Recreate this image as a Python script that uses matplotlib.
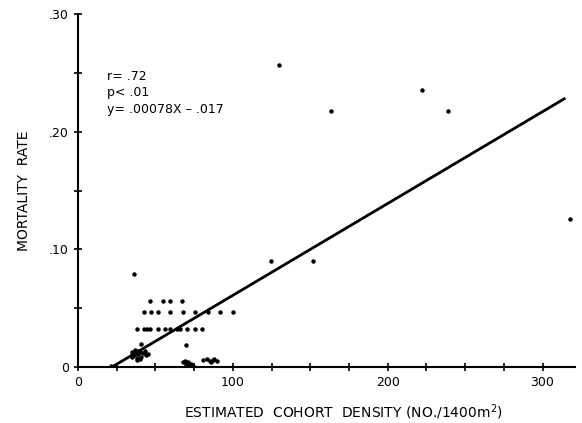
import matplotlib.pyplot as plt
import numpy as np

# scattered points
density = [36, 46.8, 54.7, 59.4, 67.0,
           42.7, 47.4, 51.7, 59.3, 67.5, 75.6, 83.8, 92.0, 100.2,
           38.4, 42.5, 44.6, 46.8, 51.7, 56.0, 59.7, 63.8, 65.7, 70.5, 75.6, 80.4,
           41, 69.8,
           35, 36, 37, 38, 39, 40, 41, 42, 43, 44, 45, 37, 38, 35, 40, 36, 39,
           68, 69, 70, 71, 72, 73, 74, 70,
           81, 83, 85, 87, 88, 90, 86,
           21.5,
           124.8, 129.5, 151.7, 163.4, 222, 239, 318]
mortality = [0.079, 0.056, 0.056, 0.056, 0.056,
             0.0466, 0.0466, 0.0466, 0.0466, 0.0466, 0.0466, 0.0466, 0.0466, 0.0466,
             0.0324, 0.0324, 0.0324, 0.0324, 0.0324, 0.0324, 0.0324, 0.0324, 0.0324, 0.0324, 0.0324, 0.0324,
             0.020, 0.0185,
             0.013, 0.010, 0.012, 0.008, 0.011, 0.013, 0.009, 0.012, 0.014, 0.010, 0.011, 0.015, 0.006, 0.009, 0.007, 0.012, 0.014,
             0.004, 0.005, 0.003, 0.004, 0.002, 0.003, 0.001, 0.001,
             0.006, 0.007, 0.005, 0.006, 0.007, 0.005, 0.004,
             0.001,
             0.0898, 0.257, 0.0904, 0.218, 0.235, 0.218, 0.126]

# regression y = .00078x - .017
slope = 0.00078
intercept = -0.017
fit_x = np.array([21.8, 314])
fit_y = slope * fit_x + intercept

fig = plt.figure(figsize=(5.82, 4.23), dpi=100)
ax = fig.add_axes([0.134, 0.132, 0.854, 0.835])

ax.plot(density, mortality, 'o', color='black', markersize=2.2)
ax.plot(fit_x, fit_y, color='black', linewidth=2)

ax.set_xlim(0, 321)
ax.set_ylim(0, 0.30)
ax.spines['top'].set_visible(False)
ax.spines['right'].set_visible(False)
ax.spines['left'].set_linewidth(1.5)
ax.spines['bottom'].set_linewidth(1.5)

ax.set_xticks([0, 100, 200, 300])
ax.set_xticklabels(['0', '100', '200', '300'])
ax.set_xticks(np.arange(0, 321, 25), minor=True)
ax.set_yticks([0, 0.10, 0.20, 0.30])
ax.set_yticklabels(['0', '.10', '.20', '.30'])
ax.set_yticks(np.arange(0, 0.31, 0.05), minor=True)
ax.tick_params(which='both', direction='inout', length=6, width=1.2, labelsize=9)

ax.text(19, 0.247, 'r= .72', fontsize=9, va='center')
ax.text(19, 0.233, 'p< .01', fontsize=9, va='center')
ax.text(19, 0.219, 'y= .00078X \u2013 .017', fontsize=9, va='center')

ax.set_xlabel('ESTIMATED  COHORT  DENSITY (NO./1400m$^2$)', fontsize=10)
ax.xaxis.set_label_coords(0.535, -0.1)
ax.set_ylabel('MORTALITY  RATE', fontsize=10, labelpad=13)

fig.savefig('out.png', dpi=100)
